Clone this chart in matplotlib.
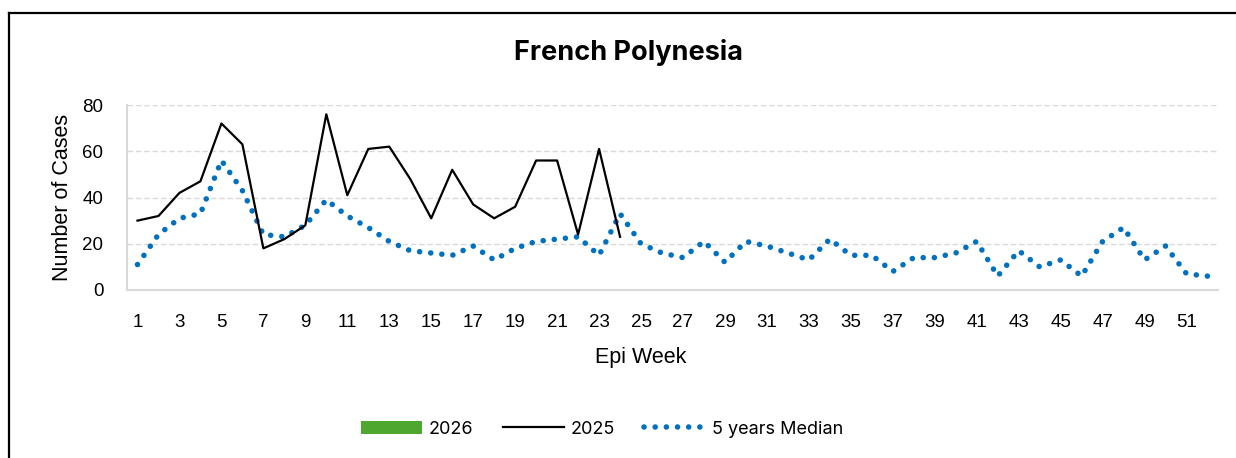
import matplotlib
matplotlib.use("Agg")
import matplotlib.pyplot as plt
from matplotlib.lines import Line2D
from matplotlib.patches import Patch

plt.rcParams["font.family"] = ["Inter", "DejaVu Sans"]
AXIS_FONT = ["Liberation Sans", "DejaVu Sans"]

weeks = list(range(1, 53))

cases_2025 = [30, 32, 42, 47, 72, 63, 18, 22, 28, 76, 41, 61, 62, 48, 31, 52,
              37, 31, 36, 56, 56, 24, 61, 23]

median_5y = [11, 24, 31, 33, 56, 43, 24, 23, 28, 39, 32, 27, 21, 17, 16, 15,
             19, 13, 18, 21, 22, 23, 15, 33, 20, 16, 14, 21, 12, 21, 19, 16,
             13, 22, 15, 15, 8, 14, 14, 16, 21, 6, 17, 10, 13, 6, 21, 27,
             13, 19, 7, 6]

xtick_labels = [str(w) for w in weeks[::2]]

BLUE = "#0070C0"
GREEN = "#4EA72E"
GRID = "#D9D9D9"

fig = plt.figure(figsize=(12.36, 4.58), dpi=100)
ax = fig.add_axes([127 / 1236, 168 / 458, 1091 / 1236, 185 / 458])

ax.plot(weeks, median_5y, color=BLUE, linewidth=4,
        linestyle=(0, (0.01, 2.0)), dash_capstyle="round", zorder=2)
ax.plot(weeks[:len(cases_2025)], cases_2025, color="black", linewidth=1.6, zorder=3)

ax.set_xlim(0.5, 52.5)
ax.set_ylim(0, 80)
ax.set_yticks([0, 20, 40, 60, 80])
ax.set_xticks(weeks[::2])
ax.set_xticklabels(xtick_labels)
ax.tick_params(axis="both", length=0, labelsize=13.5)
ax.tick_params(axis="x", pad=17)
ax.tick_params(axis="y", pad=17)
for lab in ax.get_xticklabels() + ax.get_yticklabels():
    lab.set_family(AXIS_FONT)
ax.grid(axis="y", color=GRID, linestyle=(0, (4, 2)), linewidth=1)
ax.set_axisbelow(True)
for side in ["top", "right"]:
    ax.spines[side].set_visible(False)
for side in ["left", "bottom"]:
    ax.spines[side].set_color(GRID)
    ax.spines[side].set_linewidth(1.5)

ax.set_xlabel("Epi Week", fontsize=15.5, labelpad=8, family=AXIS_FONT)
ax.xaxis.set_label_coords((641 - 127) / 1091, -(357 - 290) / 185)
ax.xaxis.label.set_va("center")
ax.set_ylabel("Number of Cases", fontsize=15.5, labelpad=7, family=AXIS_FONT)

fig.text(628 / 1236, 1 - 53 / 458, "French Polynesia", ha="center", va="center",
         fontsize=19.5, fontweight="bold")

handles = [
    Patch(facecolor=GREEN, edgecolor="none"),
    Line2D([], [], color="black", linewidth=1.6),
    Line2D([], [], color=BLUE, linewidth=4, linestyle=(0, (0.01, 2.0)),
           dash_capstyle="round"),
]
fig.legend(handles, ["2026", "2025", "5 years Median"], loc="center",
           bbox_to_anchor=(602 / 1236, 1 - 429 / 458), ncol=3, frameon=False,
           fontsize=13, handlelength=3.4, handletextpad=0.35, columnspacing=1.65)

# chart frame (top and left edges visible in the crop)
fig.add_artist(Line2D([9 / 1236, 1.0], [1 - 13 / 458, 1 - 13 / 458],
                      transform=fig.transFigure, color="black", linewidth=1.6))
fig.add_artist(Line2D([9 / 1236, 9 / 1236], [1 - 13 / 458, 0],
                      transform=fig.transFigure, color="black", linewidth=1.6))

fig.savefig("out.png", dpi=100)
